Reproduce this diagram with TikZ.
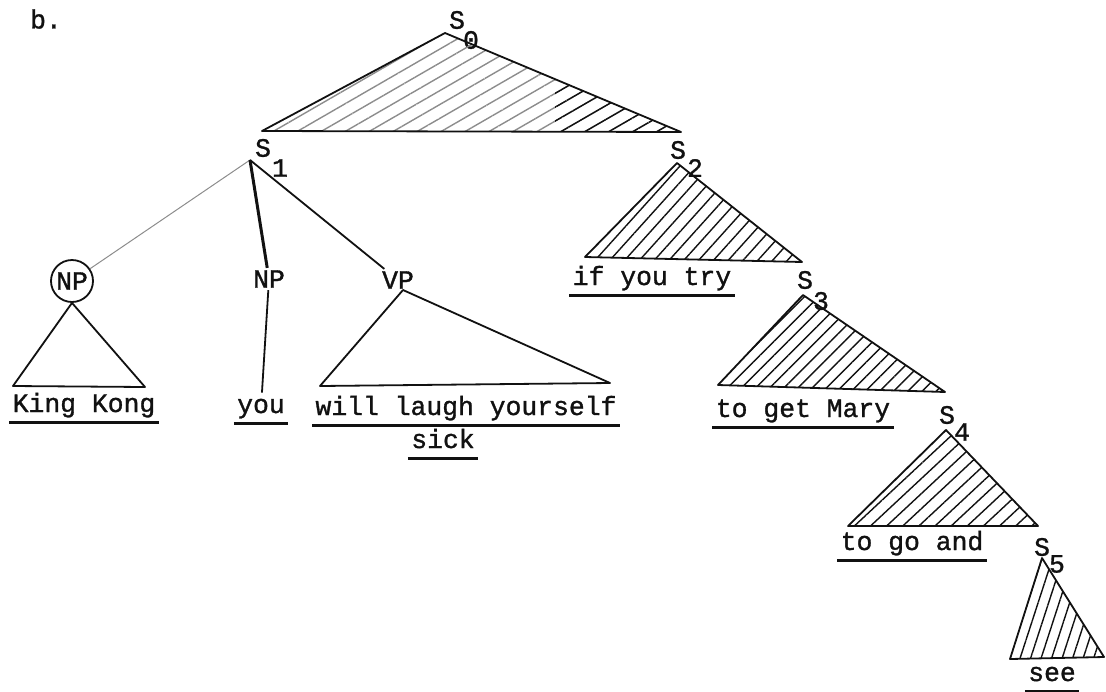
\documentclass[tikz,border=0pt]{standalone}
\usepackage{fontspec}
\newfontfamily\twfont{Liberation Mono}[FakeBold=1.2]
\usetikzlibrary{patterns.meta}
\definecolor{ink}{HTML}{111111}
\definecolor{faint}{HTML}{8C8C8C}
\tikzset{
  tw/.style={font=\twfont\fontsize{13.2}{15}\selectfont},
  cat/.style={tw,inner sep=1pt,text=ink},
  digit/.style={tw,inner sep=0pt,text=ink},
  uline/.style={draw=ink,line width=1.5pt},
  word/.style={tw,text=ink,inner xsep=1.5pt,inner ysep=2pt,
               text height=8pt,text depth=3pt,
               append after command={(\tikzlastnode.south west) edge[uline] (\tikzlastnode.south east)}},
  branch/.style={draw=ink,line width=0.9pt,line join=round},
  hatched/.style 2 args={pattern={Lines[angle=#1,distance=#2,line width=0.7pt]},pattern color=ink}
}

\begin{document}
\begin{tikzpicture}[x=0.5pt,y=-0.5pt]
  \useasboundingbox (0,0) rectangle (1106,691);
  \node[cat] (tag) at (46,19) {b.};

  % S nodes and their indices
  \node[cat] (s0) at (457,20) {S};   \node[digit] (d0) at (471,40) {0};
  \node[cat] (s1) at (263,148) {S};  \node[digit] (d1) at (280,168) {1};
  \node[cat] (s2) at (678,150) {S};  \node[digit] (d2) at (695,168) {2};
  \node[cat] (s3) at (805,280) {S};  \node[digit] (d3) at (821,301) {3};
  \node[cat] (s4) at (947,415) {S};  \node[digit] (d4) at (962,432) {4};
  \node[cat] (s5) at (1042,547) {S}; \node[digit] (d5) at (1057,564) {5};

  \coordinate (t0) at (445,33);  \coordinate (t0l) at (262,131);  \coordinate (t0r) at (681,132);
  \coordinate (t1) at (250,160);
  \coordinate (t2) at (677,163); \coordinate (t2l) at (585,257);  \coordinate (t2r) at (802,262);
  \coordinate (t3) at (803,295); \coordinate (t3l) at (718,385);  \coordinate (t3r) at (945,392);
  \coordinate (t4) at (946,430); \coordinate (t4l) at (848,526);  \coordinate (t4r) at (1038,526);
  \coordinate (t5) at (1042,558);\coordinate (t5l) at (1010,659); \coordinate (t5r) at (1104,657);

  % S0 triangle, fainter on the left
  \fill[hatched={30}{6pt},pattern color=faint] (t0) -- (t0l) -- (t0r) -- cycle;
  \begin{scope}
    \clip (555,0) rectangle (700,140);
    \fill[hatched={30}{6pt}] (t0) -- (t0l) -- (t0r) -- cycle;
  \end{scope}
  \draw[branch] (t0) -- (t0l) -- (t0r) -- cycle;

  \fill[hatched={48}{5.5pt}] (t2) -- (t2l) -- (t2r) -- cycle;
  \draw[branch] (t2) -- (t2l) -- (t2r) -- cycle;
  \fill[hatched={45}{5pt}] (t3) -- (t3l) -- (t3r) -- cycle;
  \draw[branch] (t3) -- (t3l) -- (t3r) -- cycle;
  \fill[hatched={43}{5.5pt}] (t4) -- (t4l) -- (t4r) -- cycle;
  \draw[branch] (t4) -- (t4l) -- (t4r) -- cycle;
  \fill[hatched={72}{5pt}] (t5) -- (t5l) -- (t5r) -- cycle;
  \draw[branch] (t5) -- (t5l) -- (t5r) -- cycle;

  % under S1
  \node[cat,circle,draw=ink,line width=0.9pt,minimum size=21pt,inner sep=0pt] (np1) at (72,281) {NP};
  \node[cat] (np2) at (269,279) {NP};
  \node[cat] (vp) at (398,280) {VP};
  \draw[branch,draw=faint,line width=0.5pt] (t1) -- (np1);
  \draw[branch,line width=1.5pt] (t1) -- (np2);
  \draw[branch] (t1) -- (vp);

  \node[word] (kk) at (84,407) {King Kong};
  \node[word] (you) at (261,408) {you};
  \node[word] (wl) at (466,410) {will laugh yourself};
  \node[word] (sick) at (443,443) {sick};
  \node[word] (ift) at (652,280) {if you try};
  \node[word] (tgm) at (803,412) {to get Mary};
  \node[word] (tga) at (912,545) {to go and};
  \node[word] (see) at (1052,676) {see};

  \coordinate (kl) at (13,386); \coordinate (kr) at (145,387);
  \draw[branch] (np1.south) -- (kl) -- (kr) -- cycle;
  \draw[branch] (np2) -- (you);
  \coordinate (tv) at (403,290); \coordinate (vl) at (320,386); \coordinate (vr) at (610,383);
  \draw[branch] (tv) -- (vl) -- (vr) -- cycle;
\end{tikzpicture}
\end{document}
